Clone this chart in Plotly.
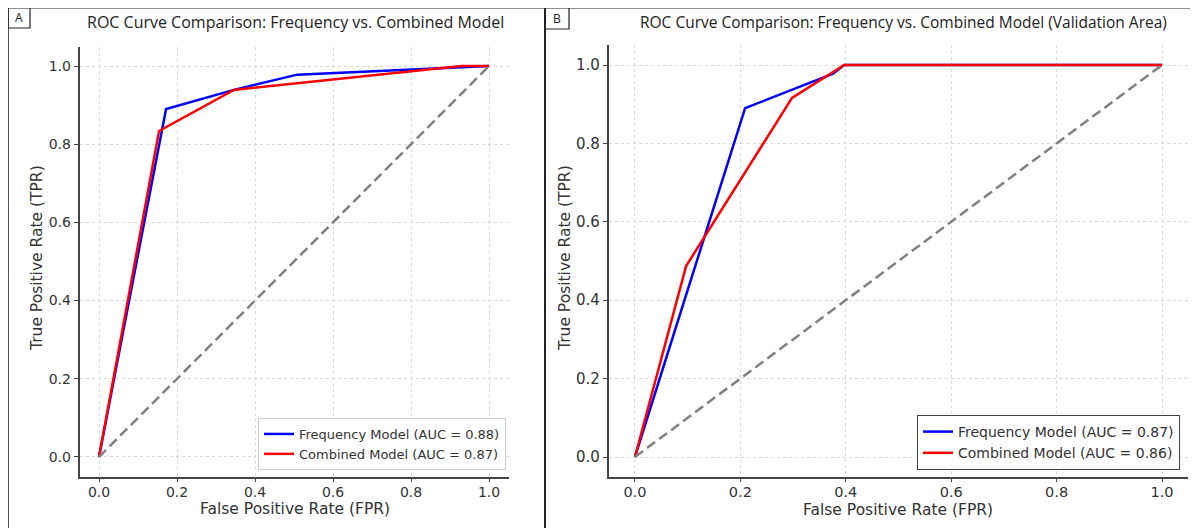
import plotly.graph_objects as go

# page body has an 8px margin, so the figure starts at (8, 8) on the page
OFF = 8
W, H = 1190, 520

# Panel A data
a_freq_fpr = [0.0, 0.172, 0.346, 0.508, 1.0]
a_freq_tpr = [0.0, 0.890, 0.939, 0.978, 1.0]
a_comb_fpr = [0.0, 0.154, 0.346, 0.93, 1.0]
a_comb_tpr = [0.0, 0.834, 0.939, 1.0, 1.0]
a_freq_label = "Frequency Model (AUC = 0.88)"
a_comb_label = "Combined Model (AUC = 0.87)"

# Panel B data
b_freq_fpr = [0.0, 0.209, 0.376, 0.397, 1.0]
b_freq_tpr = [0.0, 0.890, 0.978, 1.0, 1.0]
b_comb_fpr = [0.0, 0.097, 0.298, 0.397, 1.0]
b_comb_tpr = [0.0, 0.487, 0.916, 1.0, 1.0]
b_freq_label = "Frequency Model (AUC = 0.87)"
b_comb_label = "Combined Model (AUC = 0.86)"

diag = [0.0, 1.0]
ticks = [0.0, 0.2, 0.4, 0.6, 0.8, 1.0]
tick_text = ["0.0", "0.2", "0.4", "0.6", "0.8", "1.0"]

title_a = "ROC Curve Comparison: Frequency vs. Combined Model"
title_b = "ROC Curve Comparison: Frequency vs. Combined Model (Validation Area)"
xlab = "False Positive Rate (FPR)"
ylab = "True Positive Rate (TPR)"

BLUE = "#0000ff"
RED = "#ff0000"
GRAY = "#808080"


def px(x):
    return (x - OFF) / W


def py(y):
    return 1 - (y - OFF) / H


fig = go.Figure()

fig.add_trace(go.Scatter(x=a_freq_fpr, y=a_freq_tpr, mode="lines", name=a_freq_label,
                         line=dict(color=BLUE, width=2.5), xaxis="x", yaxis="y", legend="legend"))
fig.add_trace(go.Scatter(x=a_comb_fpr, y=a_comb_tpr, mode="lines", name=a_comb_label,
                         line=dict(color=RED, width=2.5), xaxis="x", yaxis="y", legend="legend"))
fig.add_trace(go.Scatter(x=diag, y=diag, mode="lines", showlegend=False,
                         line=dict(color=GRAY, width=2.5, dash="10px,5px"), xaxis="x", yaxis="y"))

fig.add_trace(go.Scatter(x=b_freq_fpr, y=b_freq_tpr, mode="lines", name=b_freq_label,
                         line=dict(color=BLUE, width=2.5), xaxis="x2", yaxis="y2", legend="legend2"))
fig.add_trace(go.Scatter(x=b_comb_fpr, y=b_comb_tpr, mode="lines", name=b_comb_label,
                         line=dict(color=RED, width=2.5), xaxis="x2", yaxis="y2", legend="legend2"))
fig.add_trace(go.Scatter(x=diag, y=diag, mode="lines", showlegend=False,
                         line=dict(color=GRAY, width=2.5, dash="10px,5px"), xaxis="x2", yaxis="y2"))


def axis_style(domain, anchor, fsize, standoff=0):
    return dict(domain=domain, anchor=anchor, range=[-0.05, 1.05],
                tickvals=ticks, ticktext=tick_text,
                showline=True, linecolor="#444444", linewidth=1.5, mirror=False,
                ticks="outside", ticklen=4, tickcolor="#444444", tickwidth=1,
                ticklabelstandoff=standoff,
                showgrid=True, gridcolor="#d9d9d9", griddash="dot", gridwidth=1,
                zeroline=False,
                tickfont=dict(family="DejaVu Sans", size=fsize, color="#333333"))


fig.update_layout(
    width=W, height=H, autosize=False,
    margin=dict(l=0, r=0, t=0, b=0),
    paper_bgcolor="white", plot_bgcolor="white",
    xaxis=axis_style([px(79.5), px(508.5)], "y", 14, -2),
    yaxis=axis_style([py(476.5), py(46.5)], "x", 14),
    xaxis2=axis_style([px(608.6), px(1188.4)], "y2", 14.5, -3),
    yaxis2=axis_style([py(476.6), py(45.4)], "x2", 15),
    legend=dict(x=px(506), y=py(470), xanchor="right", yanchor="bottom",
                bgcolor="rgba(255,255,255,0.85)", bordercolor="#cccccc", borderwidth=1,
                font=dict(family="DejaVu Sans", size=13, color="#333333"),
                tracegroupgap=0),
    legend2=dict(x=px(1180), y=py(470), xanchor="right", yanchor="bottom",
                 bgcolor="rgba(255,255,255,0.85)", bordercolor="#444444", borderwidth=1,
                 font=dict(family="DejaVu Sans", size=14, color="#333333"),
                 tracegroupgap=0),
    showlegend=True,
)

annotations = [
    dict(text=title_a, x=px(295), y=py(22), xref="paper", yref="paper", showarrow=False,
         xanchor="center", yanchor="middle", font=dict(family="Open Sans", size=16, color="#222222")),
    dict(text=title_b, x=px(903), y=py(22), xref="paper", yref="paper", showarrow=False,
         xanchor="center", yanchor="middle", font=dict(family="Open Sans", size=15.5, color="#222222")),
    dict(text=xlab, x=px(295), y=py(509), xref="paper", yref="paper", showarrow=False,
         xanchor="center", yanchor="middle", font=dict(family="DejaVu Sans", size=15.5, color="#333333")),
    dict(text=xlab, x=px(898), y=py(510), xref="paper", yref="paper", showarrow=False,
         xanchor="center", yanchor="middle", font=dict(family="DejaVu Sans", size=15.5, color="#333333")),
    dict(text=ylab, x=px(37), y=py(258), xref="paper", yref="paper", showarrow=False, textangle=-90,
         xanchor="center", yanchor="middle", font=dict(family="DejaVu Sans", size=15.5, color="#333333")),
    dict(text=ylab, x=px(565), y=py(258), xref="paper", yref="paper", showarrow=False, textangle=-90,
         xanchor="center", yanchor="middle", font=dict(family="DejaVu Sans", size=15.5, color="#333333")),
    dict(text="A", x=px(18.5), y=py(17.5), xref="paper", yref="paper", showarrow=False,
         xanchor="center", yanchor="middle", font=dict(family="Open Sans", size=12, color="#222222")),
    dict(text="B", x=px(557), y=py(18), xref="paper", yref="paper", showarrow=False,
         xanchor="center", yanchor="middle", font=dict(family="Open Sans", size=12, color="#222222")),
]
fig.update_layout(annotations=annotations)

border = "#222222"
shapes = [
    dict(type="line", xref="paper", yref="paper", x0=px(6), x1=1, y0=py(7.5), y1=py(7.5),
         line=dict(color=border, width=2)),
    dict(type="line", xref="paper", yref="paper", x0=px(8), x1=px(8), y0=py(7), y1=0,
         line=dict(color=border, width=1.5)),
    dict(type="line", xref="paper", yref="paper", x0=px(545), x1=px(545), y0=py(7), y1=0,
         line=dict(color=border, width=2)),
    dict(type="rect", xref="paper", yref="paper", x0=px(8), x1=px(30), y0=py(28), y1=py(7.5),
         line=dict(color=border, width=1.2)),
    dict(type="rect", xref="paper", yref="paper", x0=px(545), x1=px(569), y0=py(29), y1=py(7.5),
         line=dict(color=border, width=1.2)),
]
fig.update_layout(shapes=shapes)

fig.write_html("out.html")
